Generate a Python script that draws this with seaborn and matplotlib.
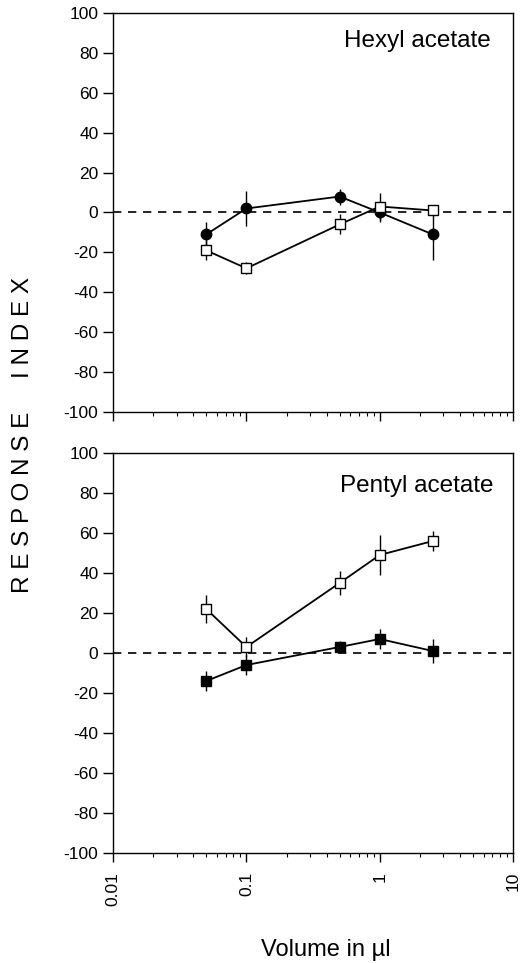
import numpy as np
import pandas as pd
import seaborn as sns
import matplotlib
matplotlib.use("Agg")
import matplotlib.pyplot as plt
from matplotlib.ticker import LogLocator, NullFormatter, FixedLocator

volumes = [0.05, 0.1, 0.5, 1.0, 2.5]

hexyl_filled = [-11, 2, 8, 0, -11]
hexyl_filled_err = [6, 9, 4, 5, 13]
hexyl_open = [-19, -28, -6, 3, 1]
hexyl_open_err = [5, 3, 5, 7, 3]

pentyl_open = [22, 3, 35, 49, 56]
pentyl_open_err = [7, 5, 6, 10, 5]
pentyl_filled = [-14, -6, 3, 7, 1]
pentyl_filled_err = [5, 5, 3, 5, 6]

y_ticks = list(range(-100, 101, 20))
x_ticks = [0.01, 0.1, 1, 10]
x_tick_labels = ["0.01", "0.1", "1", "10"]

sns.set_style("ticks")
plt.rcParams['font.family'] = ['Liberation Sans', 'DejaVu Sans']
for key in ["text.color", "axes.labelcolor", "xtick.color", "ytick.color", "axes.edgecolor"]:
    plt.rcParams[key] = "black"

fig = plt.figure(figsize=(5.22, 9.63), dpi=100)
ax1 = fig.add_axes([0.2165, 0.5722, 0.7665, 0.4143])
ax2 = fig.add_axes([0.2165, 0.1142, 0.7665, 0.4154])


def draw_series(ax, x, y, err, marker, filled):
    df = pd.DataFrame({"x": x, "y": y})
    ax.errorbar(x, y, yerr=err, fmt="none", ecolor="black", elinewidth=1.0,
                capsize=0, zorder=2)
    sns.lineplot(data=df, x="x", y="y", ax=ax, color="black", linewidth=1.3,
                 marker=marker, markersize=7.5,
                 markerfacecolor="black" if filled else "white",
                 markeredgecolor="black", markeredgewidth=1.0, zorder=3)


def style_axes(ax, label, show_xlabels, ty):
    ax.set_xscale("log")
    ax.set_xlim(0.01, 10)
    ax.set_ylim(-100, 100)
    ax.axhline(0, color="black", linestyle=(0, (5, 4)), linewidth=1.2, zorder=1)
    ax.set_yticks(y_ticks)
    ax.set_yticklabels([str(t) for t in y_ticks], fontsize=12.5)
    ax.xaxis.set_major_locator(FixedLocator(x_ticks))
    ax.xaxis.set_minor_locator(LogLocator(base=10, subs=np.arange(2, 10)))
    ax.xaxis.set_minor_formatter(NullFormatter())
    if show_xlabels:
        ax.set_xticklabels(x_tick_labels, rotation=90, fontsize=12.5)
    else:
        ax.set_xticklabels([])
    ax.tick_params(axis="y", direction="out", length=7, width=1, pad=3.5)
    ax.tick_params(axis="x", which="major", direction="out", length=6.5, width=1, pad=7)
    ax.tick_params(axis="x", which="minor", direction="out", length=3, width=0.8)
    for s in ax.spines.values():
        s.set_linewidth(1.0)
        s.set_color("black")
    ax.set_xlabel("")
    ax.set_ylabel("")
    ax.text(0.76, ty, label, transform=ax.transAxes, ha="center",
            va="baseline", fontsize=17.5)


draw_series(ax1, volumes, hexyl_filled, hexyl_filled_err, "o", True)
draw_series(ax1, volumes, hexyl_open, hexyl_open_err, "s", False)
style_axes(ax1, "Hexyl acetate", False, 0.915)

draw_series(ax2, volumes, pentyl_open, pentyl_open_err, "s", False)
draw_series(ax2, volumes, pentyl_filled, pentyl_filled_err, "s", True)
style_axes(ax2, "Pentyl acetate", True, 0.9025)

fig.text(0.044, 0.548, "R E S P O N S E     I N D E X", rotation=90,
         ha="center", va="center", fontsize=17.5)
fig.text(0.6245, 0.007, "Volume in µl", ha="center", va="baseline", fontsize=17)

fig.savefig("out.png", dpi=100)
